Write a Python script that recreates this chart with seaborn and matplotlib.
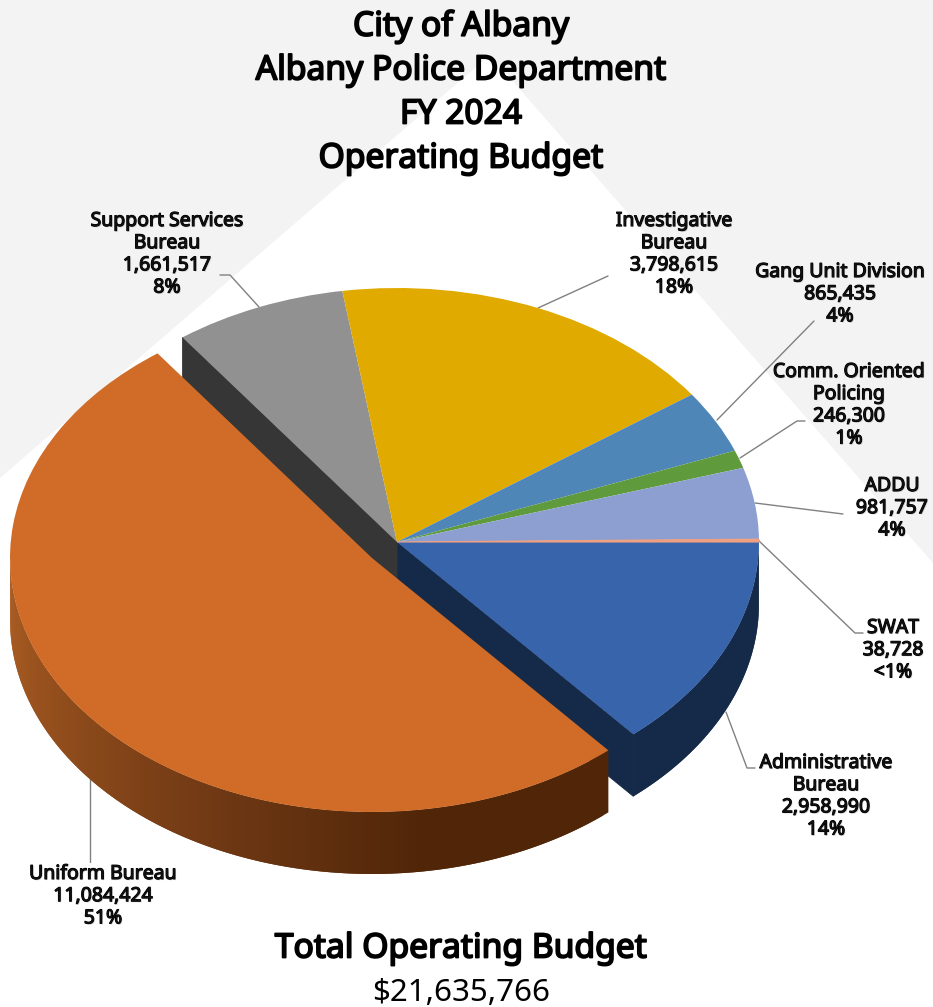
import numpy as np
import seaborn as sns
import matplotlib.pyplot as plt
import matplotlib.patheffects as pe

names = ["Administrative\nBureau", "Uniform Bureau", "Support Services\nBureau", "Investigative\nBureau",
         "Gang Unit Division", "Comm. Oriented\nPolicing", "ADDU", "SWAT"]
budget = [2958990, 11084424, 1661517, 3798615, 865435, 246300, 981757, 38728]
pct_labels = ["14%", "51%", "8%", "18%", "4%", "1%", "4%", "<1%"]
slice_colors = ["#3864ab", "#d06c28", "#919191", "#e0aa00", "#4f86b8", "#5f9a3c", "#8c9fd0", "#f0a080"]
title_lines = ["City of Albany", "Albany Police Department", "FY 2024", "Operating Budget"]

sns.set_theme(style="white")
plt.rcParams['font.family'] = ['Noto Sans', 'DejaVu Sans']

# pie geometry in pixels of the 933x1007 picture
W, H = 933, 1007
CX, CY, RX, RY = 397, 542, 362, 254
DEPTH = 62 / RY
SHIFT = (-25 / RX, -16 / RY)


def px(x, y):
    return (x - CX) / RX, (CY - y) / RY


fig = plt.figure(figsize=(W / 100, H / 100), dpi=100)
ax = fig.add_axes([0, 0, 1, 1])

# grey backdrop with the white wedge cut out
bx, by = zip(*[px(*p) for p in [(0, 0), (W, 0), (W, 563), (490, 55), (0, 478)]])
ax.fill(bx, by, color="#f3f3f3", lw=0, zorder=0)

wedges, _ = ax.pie(budget, colors=slice_colors, startangle=0, counterclock=False,
                   wedgeprops={'linewidth': 0})
for w in wedges:
    w.set_zorder(5)
wedges[-1].set_edgecolor(slice_colors[-1])
wedges[-1].set_linewidth(0.8)
wedges[1].set_center(SHIFT)
wedges[1].set_zorder(7)
ax.set_aspect('auto')
ax.set_xlim((0 - CX) / RX, (W - CX) / RX)
ax.set_ylim((CY - H) / RY, CY / RY)
ax.axis('off')

edges = np.deg2rad(np.cumsum([0] + budget) / sum(budget) * 360)


def rim(a, c=(0, 0)):
    return c[0] + np.cos(a), c[1] - np.sin(a)


def cut_face(a, color):
    x, y = rim(a)
    ax.fill([0, x, x, 0], [0, y, y - DEPTH, -DEPTH], color=color, ec=color, lw=0.6, zorder=2)


def side_band(a0, a1, colors, c=(0, 0), zorder=3):
    # each quad runs over the next one's start so no background shows in the seams
    n = len(colors)
    steps = np.linspace(a0, a1, n + 1)
    for i, col in enumerate(colors):
        x0, y0 = rim(steps[i], c)
        x1, y1 = rim(steps[min(i + 2, n)], c)
        ax.fill([x0, x1, x1, x0], [y0, y1, y1 - DEPTH, y0 - DEPTH], color=col, lw=0, zorder=zorder)


navy = "#152a48"
cut_face(edges[1], navy)
cut_face(edges[2], "#363636")
side_band(edges[0], edges[1], [navy] * 40)

# orange side runs from dark brown on the right to lighter on the left
shade = sns.blend_palette(["#512608", "#512608", "#6f3814", "#8f4c1b", "#ad5e24"], 120)
side_band(edges[1], np.pi, shade, c=SHIFT, zorder=6)

# leader lines, in pixels
leaders = [
    [(726, 712), (747, 768), (755, 768)],
    [(90, 777), (90, 862)],
    [(259, 307), (230, 275), (220, 275)],
    [(538, 308), (608, 276)],
    [(717, 420), (814, 321)],
    [(740, 458), (797, 421), (805, 421)],
    [(755, 503), (843, 514)],
    [(758, 540), (855, 633), (863, 633)],
]
for pts in leaders:
    lx, ly = zip(*[px(*p) for p in pts])
    ax.plot(lx, ly, color="#808080", lw=1, zorder=4)


def bold_fx(width, soft=False):
    # Noto Sans has no bold cut here, a thin stroke thickens it
    fx = [pe.Stroke(linewidth=width, foreground="black"), pe.Normal()]
    if soft:
        fx = [pe.withSimplePatchShadow(offset=(0.8, -0.8), alpha=0.25, shadow_rgbFace="#555555")] + fx
    return fx


# label block centres: x, y of first line
label_pos = [(826, 762), (103, 873), (167, 220), (674, 220), (840, 271), (849, 371), (892, 485), (893, 627)]
for name, val, pct, (tx, ty) in zip(names, budget, pct_labels, label_pos):
    lines = name.split("\n") + [f"{val:,}", pct]
    for i, line in enumerate(lines):
        t = ax.text(*px(tx, ty + 1 + i * 22.2), line, ha='center', va='center', fontsize=14,
                    color="#111111", zorder=9)
        t.set_path_effects(bold_fx(0.8, soft=True))

for i, line in enumerate(title_lines):
    t = ax.text(*px(461, 27 + i * 44), line, ha='center', va='center', fontsize=24.2, color="black", zorder=9)
    t.set_path_effects(bold_fx(1.3))

t = ax.text(*px(461, 949), "Total Operating Budget", ha='center', va='center', fontsize=24.2,
            color="black", zorder=9)
t.set_path_effects(bold_fx(1.3))
ax.text(*px(461, 993), f"${sum(budget):,}", ha='center', va='center', fontsize=22.5, color="black", zorder=9)

fig.savefig("out.png", dpi=100)
